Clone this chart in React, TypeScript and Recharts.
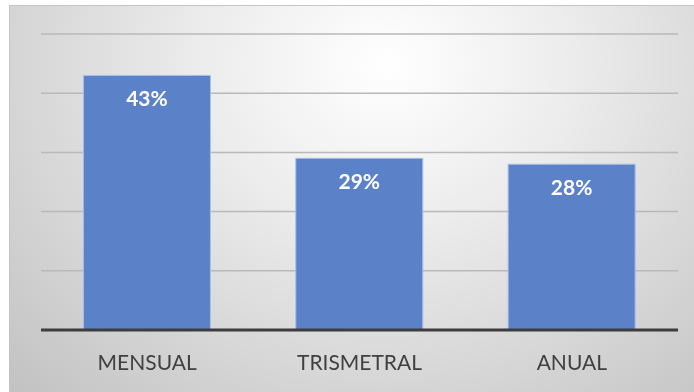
import { BarChart, Bar, XAxis, YAxis, CartesianGrid, LabelList } from "recharts";

const PERIODOS = ["MENSUAL", "TRISMETRAL", "ANUAL"];
const PORCENTAJES = [43, 29, 28];
const Y_TICKS = [0, 10, 20, 30, 40, 50];

const data = PERIODOS.map((periodo, i) => ({ periodo, valor: PORCENTAJES[i] }));

export default function App() {
  return (
    <div
      style={{
        position: "fixed",
        left: 9,
        top: 5,
        width: 685,
        height: 387,
        boxSizing: "border-box",
        borderTop: "1px solid #c4c4c4",
        borderLeft: "1px solid #c4c4c4",
        background: "radial-gradient(ellipse at 55% 15%, #ffffff 0%, #ececec 35%, #d2d2d2 75%, #c2c2c2 100%)",
      }}
    >
      <BarChart
        width={684}
        height={386}
        data={data}
        margin={{ top: 28, right: 16, left: 31, bottom: 22 }}
        barCategoryGap="20%"
      >
        <CartesianGrid vertical={false} stroke="#b9b9b9" strokeWidth={1.5} />
        <YAxis hide domain={[0, 50]} ticks={Y_TICKS} />
        <XAxis
          dataKey="periodo"
          height={40}
          tickLine={false}
          tickSize={0}
          tickMargin={25}
          axisLine={{ stroke: "#3d3d3d", strokeWidth: 3 }}
          tick={{ fill: "#404040", fontSize: 21, fontFamily: "Lato" }}
        />
        <Bar dataKey="valor" fill="#5b82c9" stroke="#a8bfe6" strokeWidth={1} isAnimationActive={false}>
          <LabelList
            dataKey="valor"
            position="insideTop"
            offset={16}
            formatter={(v: number) => `${v}%`}
            style={{ fill: "#ffffff", fontSize: 21, fontWeight: 700, fontFamily: "Lato" }}
          />
        </Bar>
      </BarChart>
    </div>
  );
}
